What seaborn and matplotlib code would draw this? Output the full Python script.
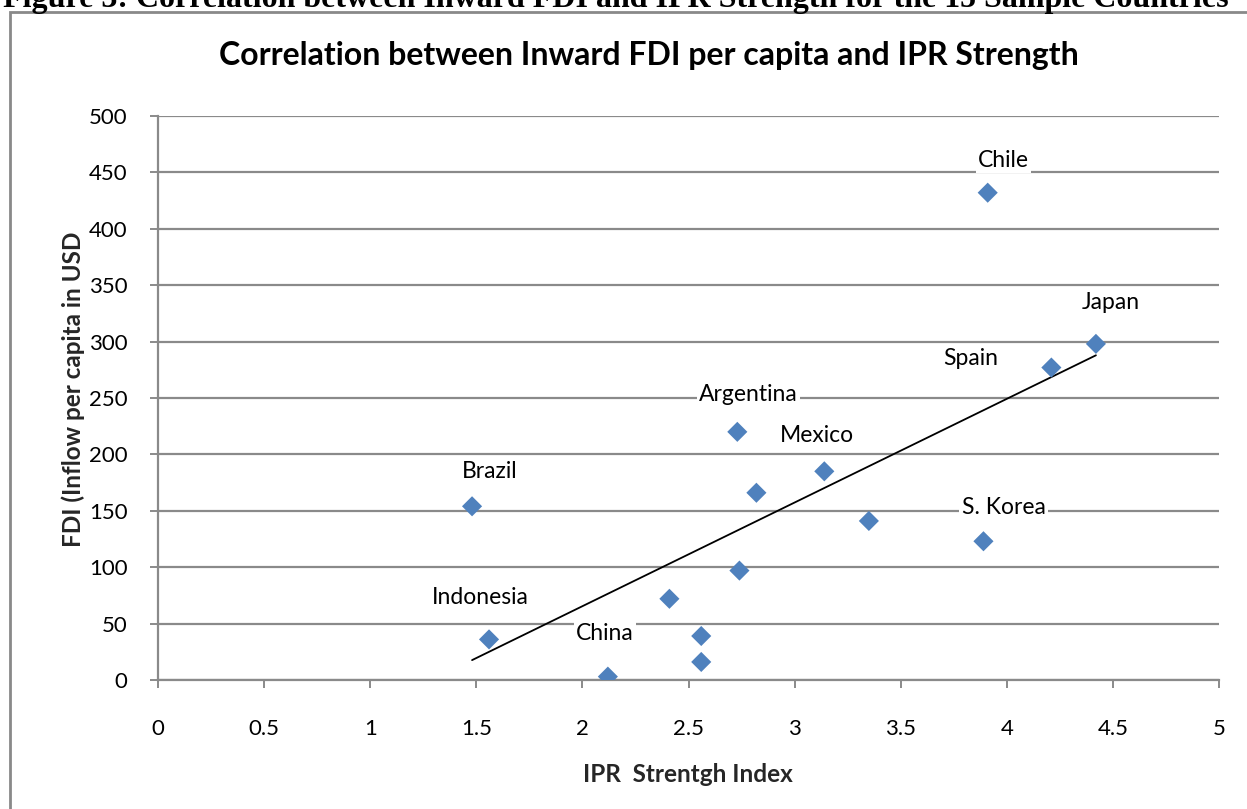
import matplotlib
matplotlib.use("Agg")
import matplotlib.pyplot as plt
from matplotlib.patches import Rectangle
import seaborn as sns
import pandas as pd

# ---- data ----
countries = ["Brazil", "Indonesia", "China", "Argentina", "", "Mexico", "", "S. Korea",
             "", "", "", "", "Chile", "Japan", "Spain"]
ipr_index = [1.48, 1.56, 2.12, 2.73, 2.82, 3.14, 3.35, 3.89,
             2.74, 2.41, 2.56, 2.56, 3.91, 4.42, 4.21]
fdi_per_capita = [154, 36, 3, 220, 166, 185, 141, 123,
                  97, 72, 39, 16, 432, 298, 277]
x_ticks = [0, 0.5, 1, 1.5, 2, 2.5, 3, 3.5, 4, 4.5, 5]
x_tick_labels = ["0", "0.5", "1", "1.5", "2", "2.5", "3", "3.5", "4", "4.5", "5"]
y_ticks = [0, 50, 100, 150, 200, 250, 300, 350, 400, 450, 500]

caption = "Figure 3: Correlation between Inward FDI and IPR Strength for the 15 Sample Countries"
title = "Correlation between Inward FDI per capita and IPR Strength"
x_label = "IPR  Strentgh Index"
y_label = "FDI (Inflow per capita in USD"

df = pd.DataFrame({"country": countries, "ipr": ipr_index, "fdi": fdi_per_capita})

# label offsets (pixels) from point to label centre
label_offsets = {
    "Brazil": (18, 35), "Indonesia": (-9, 42), "China": (-3, 43),
    "Argentina": (11, 37), "Mexico": (-7, 36), "S. Korea": (20, 34),
    "Chile": (16, 32), "Japan": (15, 41), "Spain": (-81, 9),
}

sns.set_theme(style="white")
plt.rcParams["font.family"] = ["Lato", "DejaVu Sans"]

W, H = 1247, 809
fig = plt.figure(figsize=(W / 100, H / 100), dpi=100)
fig.patch.set_facecolor("white")

# chart frame (extends past the image edge)
fig.patches.append(Rectangle((10 / W, -0.05), 1.1, 1 - 12 / H + 0.05,
                             transform=fig.transFigure, fill=False,
                             edgecolor="#898989", linewidth=2.0, zorder=0))

# caption, partly cut off at the top (as in the reference)
fig.text(0.494, 1 - 7 / H, caption, ha="center", va="baseline",
         family=["Liberation Serif"], fontweight="bold", fontsize=23, color="black")

ax = fig.add_axes([158 / W, 1 - 680 / H, (1219 - 158) / W, (680 - 116) / H])
ax.set_facecolor("none")

sns.regplot(data=df, x="ipr", y="fdi", ax=ax, scatter=False, ci=None,
            line_kws={"color": "black", "linewidth": 1.3, "zorder": 3})
sns.scatterplot(data=df, x="ipr", y="fdi", ax=ax, marker="D", s=105,
                color="#4F81BD", edgecolor="none", zorder=4)

for name, xv, yv in zip(countries, ipr_index, fdi_per_capita):
    if name:
        dx, dy = label_offsets[name]
        ax.annotate(name, (xv, yv), xytext=(dx, dy), textcoords="offset pixels",
                    ha="center", va="center", fontsize=16.5, color="black",
                    bbox=dict(boxstyle="square,pad=0.1", facecolor="white",
                              edgecolor="none"), zorder=2)

ax.set_xlim(0, 5)
ax.set_ylim(0, 500)
ax.set_xticks(x_ticks)
ax.set_xticklabels(x_tick_labels)
ax.set_yticks(y_ticks)

ax.yaxis.grid(True, color="#8a8a8a", linewidth=1.6)
ax.xaxis.grid(False)
ax.set_axisbelow(True)
for side in ["top", "right"]:
    ax.spines[side].set_visible(False)
for side in ["left", "bottom"]:
    ax.spines[side].set_color("#8a8a8a")
    ax.spines[side].set_linewidth(1.6)

ax.tick_params(axis="both", which="major", direction="out", length=6, width=1.4,
               color="#8a8a8a", labelsize=16, labelcolor="black",
               bottom=True, left=True)
ax.tick_params(axis="x", pad=22)
ax.tick_params(axis="y", pad=16)

ax.set_xlabel(x_label, fontsize=17.5, fontweight="bold")
ax.set_ylabel(y_label, fontsize=17.5, fontweight="bold")
ax.xaxis.label.set_fontweight("bold")
ax.yaxis.label.set_fontweight("bold")
ax.xaxis.set_label_coords((688 - 158) / (1219 - 158), -(774 - 680) / (680 - 116))
ax.yaxis.set_label_coords(-(158 - 73) / (1219 - 158), (680 - 389) / (680 - 116))
ax.xaxis.label.set_va("center")
ax.yaxis.label.set_va("center")

fig.text(649 / W, 1 - 56 / H, title, ha="center", va="center",
         fontsize=23, fontweight="bold", color="black")

fig.savefig("out.png", dpi=100)
